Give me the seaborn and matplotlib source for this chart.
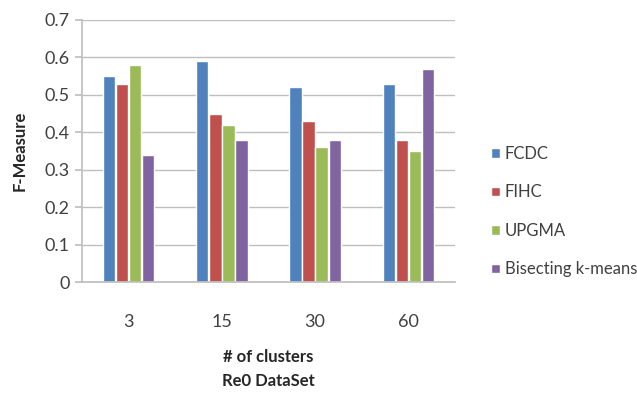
import matplotlib
matplotlib.use("Agg")
import matplotlib.pyplot as plt
import seaborn as sns
import pandas as pd

clusters = ["3", "15", "30", "60"]
methods = ["FCDC", "FIHC", "UPGMA", "Bisecting k-means"]
fcdc = [0.55, 0.59, 0.52, 0.53]
fihc = [0.53, 0.45, 0.43, 0.38]
upgma = [0.58, 0.42, 0.36, 0.35]
bisecting = [0.34, 0.38, 0.38, 0.57]
yticks = [0, 0.1, 0.2, 0.3, 0.4, 0.5, 0.6, 0.7]
colors = ["#4F81BD", "#C0504D", "#9BBB59", "#8064A2"]

rows = []
for name, vals in zip(methods, [fcdc, fihc, upgma, bisecting]):
    for c, v in zip(clusters, vals):
        rows.append({"clusters": c, "method": name, "value": v})
df = pd.DataFrame(rows)

sns.set_theme(style="white")
plt.rcParams["font.family"] = ["Lato", "DejaVu Sans"]

fig = plt.figure(figsize=(6.37, 3.99), dpi=100)
ax = fig.add_axes([0.129, 0.293, 0.585, 0.657])

sns.barplot(data=df, x="clusters", y="value", hue="method", order=clusters,
            hue_order=methods, palette=colors, width=0.56, gap=0.06,
            saturation=1, ax=ax, legend=True)

ax.set_ylim(0, 0.7)
ax.set_yticks(yticks)
ax.set_yticklabels(["0" if t == 0 else f"{t:.1f}" for t in yticks])
ax.yaxis.grid(True, color="#BFBFBF", linewidth=1.0)
ax.set_axisbelow(True)
for side in ["top", "right"]:
    ax.spines[side].set_visible(False)
ax.spines["left"].set_color("#BFBFBF")
ax.spines["bottom"].set_color("#BFBFBF")
ax.tick_params(axis="y", labelsize=13, labelcolor="#404040", left=True,
               length=5, color="#BFBFBF", pad=4)
ax.tick_params(axis="x", labelsize=13, labelcolor="#404040", bottom=False, pad=17)

ax.set_ylabel("F-Measure", fontsize=12, fontweight="bold", color="#262626", labelpad=12)
ax.set_xlabel("# of clusters\nRe0 DataSet", fontsize=12, fontweight="bold",
              color="#262626", labelpad=14, linespacing=1.55)

handles, labels = ax.get_legend_handles_labels()
ax.legend_.remove()
fig.legend(handles, labels, loc="center left", bbox_to_anchor=(0.748, 0.47),
           frameon=False, fontsize=12, labelspacing=1.35, handlelength=0.5,
           handleheight=0.5, handletextpad=0.3, labelcolor="#404040")

fig.savefig("out.png", dpi=100)
